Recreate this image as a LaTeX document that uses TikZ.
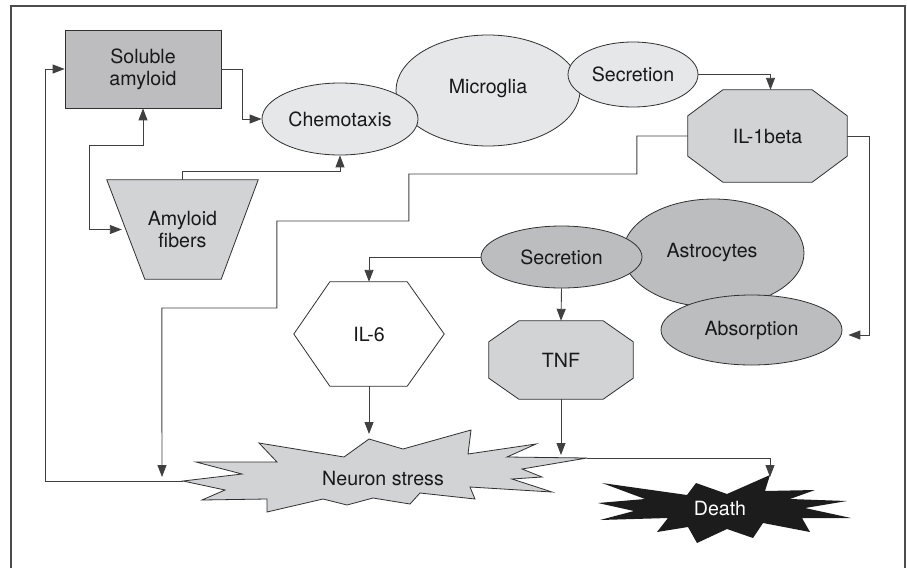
\documentclass[tikz,border=0pt]{standalone}
\usepackage{fontspec}
\setmainfont{TeX Gyre Heros}
\usetikzlibrary{shapes.geometric,arrows.meta,backgrounds}
\definecolor{linec}{HTML}{404040}
\definecolor{edgec}{HTML}{303030}
\definecolor{gsa}{HTML}{BDBDBF}
\definecolor{glight}{HTML}{E6E7E8}
\definecolor{gmid}{HTML}{D2D3D5}
\definecolor{gastro}{HTML}{BCBDBF}
\definecolor{gdeath}{HTML}{1C1C1C}
\begin{document}
\begin{tikzpicture}[x=1pt,y=-1pt,
  every node/.style={font=\fontsize{19.6}{22}\selectfont, text=black!90},
  shp/.style={draw=edgec, line width=0.8pt},
  ell/.style={shp, ellipse, inner sep=0pt},
  ghost/.style={inner sep=0pt, align=center},
  arr/.style={draw=linec, line width=0.9pt, -{Triangle[length=12pt,width=9pt]}},
  arrboth/.style={draw=linec, line width=0.9pt, {Triangle[length=12pt,width=9pt]}-{Triangle[length=12pt,width=9pt]}},
  plain/.style={draw=linec, line width=0.9pt}]
\useasboundingbox (0,0) rectangle (907,568);
% frame
\draw[draw=black!70, line width=1.4pt] (11,568) -- (11,6) -- (905,6) -- (905,568);

% Soluble amyloid
\node[shp, fill=gsa, minimum width=156pt, minimum height=78pt, align=center] (sa) at (143,69) {Soluble\\amyloid};

% Amyloid fibers (trapezoid)
\node[ghost, minimum width=151pt, minimum height=99pt] (af) at (182.5,229.5) {Amyloid\\fibers};
\begin{pgfonlayer}{background}
\draw[shp, fill=gmid] (af.north west) -- (af.north east) -- ([xshift=-37pt]af.south east) -- ([xshift=38pt]af.south west) -- cycle;
\end{pgfonlayer}

% Microglia group
\node[ell, fill=glight, minimum width=184pt, minimum height=111pt] (micro) at (488,90.5) {};
\node at (488,88) {Microglia};
\node[ell, fill=glight, minimum width=156pt, minimum height=72pt] (chemo) at (340,119) {Chemotaxis};
\node[ell, fill=glight, minimum width=130pt, minimum height=65pt] (sec1) at (633,74.5) {Secretion};

% IL-1beta octagon
\node[ghost, minimum width=159pt, minimum height=92pt] (il1) at (767.5,136) {IL-1beta};
\begin{pgfonlayer}{background}
\draw[shp, fill=gmid] ([xshift=35pt]il1.north west) -- ([xshift=-35pt]il1.north east) -- ([yshift=-26pt]il1.north east) -- ([yshift=26pt]il1.south east) -- ([xshift=-35pt]il1.south east) -- ([xshift=35pt]il1.south west) -- ([yshift=26pt]il1.south west) -- ([yshift=-26pt]il1.north west) -- cycle;
\end{pgfonlayer}

% Astrocytes group
\node[ell, fill=gastro, minimum width=181pt, minimum height=108pt] (astro) at (713.5,253) {};
\node at (712,252) {Astrocytes};
\node[ell, fill=gastro, minimum width=161pt, minimum height=62pt] (sec2) at (561.5,257) {Secretion};
\node[ell, fill=gastro, minimum width=181pt, minimum height=70pt] (abs) at (751.5,330) {Absorption};

% IL-6 hexagon
\node[ghost, minimum width=150pt, minimum height=104pt] (il6) at (369,334) {IL-6};
\begin{pgfonlayer}{background}
\draw[shp, fill=white] ([xshift=36pt]il6.north west) -- ([xshift=-37pt]il6.north east) -- (il6.east) -- ([xshift=-37pt]il6.south east) -- ([xshift=36pt]il6.south west) -- (il6.west) -- cycle;
\end{pgfonlayer}

% TNF octagon
\node[ghost, minimum width=144pt, minimum height=78pt] (tnf) at (561,360) {TNF};
\begin{pgfonlayer}{background}
\draw[shp, fill=gmid] ([xshift=30pt]tnf.north west) -- ([xshift=-30pt]tnf.north east) -- ([yshift=-21pt]tnf.north east) -- ([yshift=21pt]tnf.south east) -- ([xshift=-30pt]tnf.south east) -- ([xshift=30pt]tnf.south west) -- ([yshift=21pt]tnf.south west) -- ([yshift=-21pt]tnf.north west) -- cycle;
\end{pgfonlayer}

% Neuron stress starburst
\draw[shp, fill=gmid] (183,481) -- (242,474) -- (196,462) -- (277,462) -- (259,443) -- (344,457) -- (369,439) -- (403,449) -- (471,430) -- (468,454) -- (536,444) -- (507,457) -- (587,458) -- (522,469) -- (542,477) -- (512,479) -- (552,492) -- (470,487) -- (475,499) -- (420,493) -- (410,504) -- (373,498) -- (347,505) -- (323,499) -- (267,512) -- (267,499) -- (202,500) -- (225,490) -- cycle;
\node (ns) at (383,478) {Neuron stress};
\coordinate (nsL) at (183,481);
\coordinate (nsR) at (587,458);
\coordinate (nsin) at (162,477);
\coordinate (il6in) at (369,434);
\coordinate (tnfin) at (561,455);

% Death starburst
\fill[gdeath] (602,483) -- (687,495) -- (696,483) -- (727,494) -- (770,475) -- (765,491) -- (815,490) -- (790,499) -- (847,501) -- (805,508) -- (851,518) -- (802,518) -- (810,532) -- (763,523) -- (753,538) -- (727,529) -- (697,543) -- (688,527) -- (657,532) -- (668,518) -- (600,520) -- (634,511) -- (598,503) -- (645,499) -- cycle;
\node[text=white] (death) at (720,508) {Death};
\coordinate (deathin) at (770,477);

% connectors
\draw[arr] (sa.east) -- ++(21,0) |- (chemo.west);
\draw[arr] (af.north) -- ++(0,-8) -| (chemo.south);
\draw[arrboth] (sa.south) -- ++(0,37) -- ++(-54,0) |- ([xshift=15pt]af.west);
\draw[arr] (sec1.east) -| ([xshift=3pt]il1.north);
\draw[arr] (il1.west) -- ++(-51,0) -- ++(0,38) -- ++(-228,0) -- ++(0,47) -- ++(-132,0) -- ++(0,87) -- ++(-115,0) -- (nsin);
\draw[arr] (il1.east) -- ++(22,0) |- ([shift={(6,5)}]abs.east);
\draw[arr] (sec2.west) -| (il6.north);
\draw[arr] (sec2.south) -- (tnf.north);
\draw[arr] (il6.south) -- (il6in);
\draw[arr] (tnf.south) -- (tnfin);
\draw[arr] (nsR) -| (deathin);
\draw[arr] (nsL) -- ++(-138,0) |- (sa.west);
\end{tikzpicture}
\end{document}
